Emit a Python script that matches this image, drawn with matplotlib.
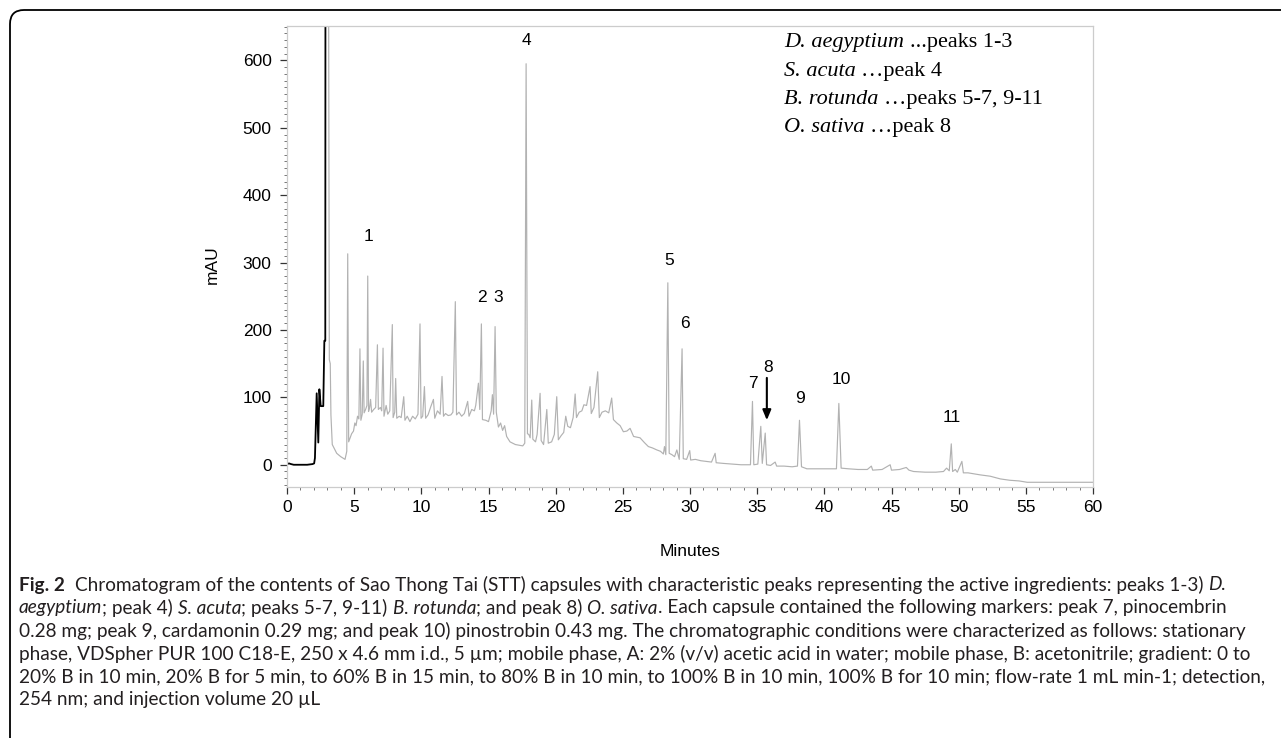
import matplotlib.pyplot as plt
from matplotlib.patches import FancyBboxPatch
from matplotlib.ticker import MultipleLocator

# trace (minutes, mAU)
# first part, drawn in black (injection / solvent front)
black_time = [0.0, 0.15, 0.3, 0.5, 1.0, 1.5, 1.9, 2.02, 2.08, 2.21, 2.33, 2.41,
              2.51, 2.7, 2.78, 2.85, 2.88]
black_mau = [1, 2, 1, 0, 0, 0, 1, 2, 10, 106, 33, 112,
             87, 87, 184, 184, 1500]

# rest of the run, drawn in light grey
grey_time = [3.02, 3.15, 3.22, 3.27, 3.37, 3.7, 4.0, 4.32, 4.45, 4.52, 4.59, 4.81,
             4.95, 5.05, 5.14, 5.25, 5.35, 5.43, 5.5, 5.6, 5.68, 5.74, 5.85, 5.95,
             6.01, 6.07, 6.15, 6.22, 6.3, 6.45, 6.6, 6.73, 6.8, 6.95, 7.05, 7.15,
             7.22, 7.38, 7.5, 7.65, 7.84, 7.9, 8.02, 8.09, 8.17, 8.35, 8.5, 8.69,
             8.78, 8.95, 9.15, 9.35, 9.55, 9.75, 9.9, 9.98, 10.1, 10.23, 10.32, 10.5,
             10.7, 10.9, 11.0, 11.2, 11.4, 11.54, 11.65, 11.8, 12.0, 12.2, 12.35, 12.53,
             12.62, 12.8, 13.0, 13.2, 13.45, 13.55, 13.75, 13.95, 14.05, 14.25, 14.35, 14.47,
             14.55, 14.8, 15.0, 15.2, 15.29, 15.38, 15.49, 15.58, 15.74, 15.9, 16.05, 16.2,
             16.35, 16.6, 17.0, 17.55, 17.7, 17.8, 17.9, 18.0, 18.1, 18.22, 18.3, 18.5,
             18.62, 18.84, 18.92, 19.1, 19.34, 19.45, 19.7, 19.9, 20.08, 20.2, 20.4, 20.6,
             20.75, 20.9, 21.1, 21.3, 21.45, 21.55, 21.75, 21.95, 22.1, 22.3, 22.56, 22.65,
             22.85, 23.13, 23.25, 23.45, 23.7, 23.95, 24.17, 24.3, 24.55, 24.8, 25.04, 25.3,
             25.54, 25.8, 26.28, 26.6, 26.9, 27.2, 27.53, 27.8, 28.02, 28.1, 28.2, 28.35,
             28.45, 28.65, 28.85, 29.02, 29.2, 29.41, 29.5, 29.75, 29.98, 30.05, 30.4, 30.8,
             31.2, 31.6, 31.87, 31.95, 32.5, 33.2, 33.8, 34.5, 34.65, 34.75, 35.05, 35.27,
             35.38, 35.6, 35.7, 36.0, 36.34, 36.45, 37.0, 37.6, 38.0, 38.15, 38.3, 38.7,
             39.5, 40.3, 40.9, 41.08, 41.25, 41.8, 42.5, 43.2, 43.5, 43.6, 44.3, 44.9,
             45.0, 45.6, 46.1, 46.3, 46.64, 47.5, 48.3, 48.87, 49.1, 49.3, 49.45, 49.55,
             49.75, 49.9, 50.24, 50.35, 50.7, 51.6, 52.35, 53.1, 53.8, 54.5, 55.1, 60.0]
grey_mau = [1500, 156, 150, 74, 30, 17, 12, 8, 20, 313, 34, 46,
            50, 62, 58, 72, 68, 172, 66, 75, 154, 77, 82, 88,
            280, 79, 85, 97, 78, 82, 85, 178, 82, 85, 80, 173,
            72, 88, 75, 80, 208, 70, 78, 128, 69, 72, 70, 101,
            66, 72, 64, 72, 68, 75, 209, 69, 72, 116, 69, 74,
            86, 97, 69, 80, 75, 131, 72, 76, 73, 74, 78, 242,
            74, 78, 72, 76, 94, 72, 82, 80, 88, 121, 82, 209,
            67, 66, 64, 80, 104, 75, 205, 78, 56, 62, 51, 58,
            42, 34, 30, 28, 32, 595, 46, 45, 40, 96, 38, 34,
            45, 106, 36, 30, 82, 32, 34, 45, 101, 37, 43, 48,
            72, 57, 55, 70, 105, 70, 78, 80, 89, 88, 116, 76,
            85, 138, 70, 78, 80, 77, 99, 67, 62, 58, 49, 50,
            54, 42, 40, 33, 27, 25, 22, 20, 16, 27, 15, 270,
            17, 15, 12, 22, 8, 172, 9, 8, 21, 7, 8, 6,
            5, 4, 17, 3, 2, 1, 0, 0, 94, 0, 1, 57,
            2, 47, 0, -1, 4, -2, -2, -3, -2, 66, -3, -6,
            -6, -6, -6, 91, -5, -6, -7, -7, -2, -8, -7, 0,
            -8, -7, -4, -8, -10, -11, -11, -10, -5, -9, 31, -10,
            -7, -11, 5, -12, -12, -15, -17, -21, -23, -24, -26, -26]

# peak numbers and where they are written
peak_names = ['1', '2', '3', '4', '5', '6', '7', '8', '9', '10', '11']
peak_x = [6.03, 14.52, 15.71, 17.8, 28.44, 29.63, 34.7, 35.8, 38.2, 41.25, 49.5]
peak_y = [338, 248, 248, 629, 303, 209, 120, 145, 99, 126, 70]

legend_lines = [
    [('D. aegyptium', 'italic'), (' ...peaks 1-3', 'normal')],
    [('S. acuta', 'italic'), (' \u2026peak 4', 'normal')],
    [('B. rotunda', 'italic'), (' \u2026peaks 5-7, 9-11', 'normal')],
    [('O. sativa', 'italic'), (' \u2026peak 8', 'normal')],
]

caption_lines = [
    [('Fig. 2', 'bold'), ('  Chromatogram of the contents of Sao Thong Tai (STT) capsules with characteristic '
                         'peaks representing the active ingredients: peaks 1-3) ', 'normal'), ('D.', 'italic')],
    [('aegyptium', 'italic'), ('; peak 4) ', 'normal'), ('S. acuta', 'italic'), ('; peaks 5-7, 9-11) ', 'normal'),
     ('B. rotunda', 'italic'), ('; and peak 8) ', 'normal'), ('O. sativa', 'italic'),
     ('. Each capsule contained the following markers: peak 7, pinocembrin', 'normal')],
    [('0.28 mg; peak 9, cardamonin 0.29 mg; and peak 10) pinostrobin 0.43 mg. The chromatographic '
      'conditions were characterized as follows: stationary', 'normal')],
    [('phase, VDSpher PUR 100 C18-E, 250 x 4.6 mm i.d., 5 \u00b5m; mobile phase, A: 2% (v/v) acetic acid in '
      'water; mobile phase, B: acetonitrile; gradient: 0 to', 'normal')],
    [('20% B in 10 min, 20% B for 5 min, to 60% B in 15 min, to 80% B in 10 min, to 100% B in 10 min, '
      '100% B for 10 min; flow-rate 1 mL min-1; detection,', 'normal')],
    [('254 nm; and injection volume 20 \u00b5L', 'normal')],
]

W, H = 1281, 738
plt.rcParams['font.family'] = ['Liberation Sans', 'DejaVu Sans']
fig = plt.figure(figsize=(W / 100, H / 100), dpi=100)

# rounded frame around the whole figure
frame = FancyBboxPatch((10, -60), 1330, 788, boxstyle='round,pad=0,rounding_size=14',
                       transform=None, fill=False, ec='black', lw=1.3)
fig.patches.append(frame)

ax = fig.add_axes([287 / W, 1 - 487 / H, (1093 - 287) / W, (487 - 26) / H])
ax.plot(grey_time, grey_mau, color='#b2b2b2', lw=0.85)
ax.plot(black_time, black_mau, color='black', lw=1.3)
ax.set_xlim(0, 60)
ax.set_ylim(-33, 651)
ax.set_xticks(range(0, 61, 5))
ax.set_yticks(range(0, 601, 100))
ax.xaxis.set_minor_locator(MultipleLocator(1))
ax.yaxis.set_minor_locator(MultipleLocator(10))
ax.tick_params(which='major', length=5, width=0.9, color='#333333', labelsize=12.5)
ax.tick_params(axis='x', which='major', pad=4)
ax.tick_params(axis='y', which='major', pad=6)
ax.tick_params(which='minor', length=2.5, width=0.7, color='#777777')
for s in ax.spines.values():
    s.set_color('#cccccc')
    s.set_linewidth(0.9)
ax.set_xlabel('Minutes', fontsize=12.5, va='center')
ax.set_ylabel('mAU', fontsize=12.5, va='center')
ax.xaxis.set_label_coords(0.5, -(552 - 487) / 461)
ax.yaxis.set_label_coords((212 - 287) / 806, (487 - 265) / 461)

for name, x, y in zip(peak_names, peak_x, peak_y):
    ax.text(x, y, name, ha='center', va='center', fontsize=12.5)
ax.annotate('', xy=(35.72, 62), xytext=(35.72, 133),
            arrowprops=dict(arrowstyle='-|>,head_length=0.6,head_width=0.25', color='black', lw=1.5))

renderer = fig.canvas.get_renderer()


def space_width(**kw):
    a = fig.text(0, 0, 'x x', **kw)
    b = fig.text(0, 0, 'xx', **kw)
    w = a.get_window_extent(renderer).width - b.get_window_extent(renderer).width
    a.remove()
    b.remove()
    return w


def draw_runs(x, y, runs, size, family, color):
    for text, style in runs:
        kw = dict(fontsize=size, family=family, color=color)
        if style == 'italic':
            kw['style'] = 'italic'
        if style == 'bold':
            kw['weight'] = 'bold'
        sp = space_width(**kw)
        core = text.strip(' ')
        x += (len(text) - len(text.lstrip(' '))) * sp
        t = fig.text(x / W, 1 - y / H, core, va='center', ha='left', **kw)
        x += t.get_window_extent(renderer).width + (len(text) - len(text.rstrip(' '))) * sp


for i, runs in enumerate(legend_lines):
    draw_runs(784, 43 + i * 28.2, runs, 16, ['Liberation Serif', 'DejaVu Serif'], 'black')

cap_font = ['Lato', 'DejaVu Sans']
for i, runs in enumerate(caption_lines):
    draw_runs(19, 585 + i * 23, runs, 13.7, cap_font, '#231f20')

fig.savefig('out.png', dpi=100)
